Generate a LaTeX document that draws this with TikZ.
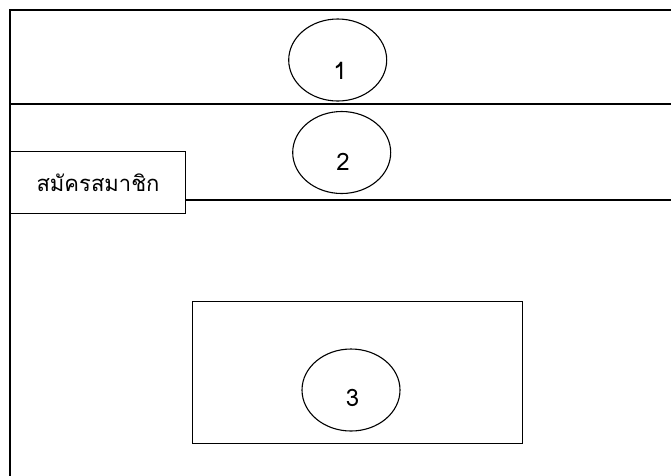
\documentclass[tikz,border=0pt]{standalone}
\usepackage{fontspec}
\newfontfamily\thaifont[Script=Thai]{Loma}
\usetikzlibrary{shapes.geometric}
\begin{document}
\begin{tikzpicture}[x=1pt,y=-1pt,line width=1.1pt,
  oval/.style={draw,ellipse,minimum width=98pt,minimum height=82pt,inner sep=0pt},
  numtext/.style={font=\thaifont\fontsize{24}{24}\selectfont,inner sep=0pt},
  labelbox/.style={draw,fill=white,minimum width=175pt,minimum height=62pt,inner sep=0pt,font=\thaifont\fontsize{22}{24}\selectfont}]
\useasboundingbox (0,0) rectangle (671,475);
% frame lines
\coordinate (tl) at (10,10);
\coordinate (tr) at (672,10);
\coordinate (bl) at (10,476);
\coordinate (ml) at (10,104);
\coordinate (mr) at (672,104);
\draw (bl) -- (tl) -- (tr);
\draw (ml) -- (mr);
% label box
\node[labelbox,anchor=north west] (reg) at (10,151) {สมัครสมาชิก};
\coordinate (lr) at (672,200);
\draw (reg.east |- lr) -- (lr);
% ovals
\node[oval] (o1) at (337.7,60) {};
\node[numtext] (t1) at (340,71) {1};
\node[oval] (o2) at (341.7,152.5) {};
\node[numtext] (t2) at (343,162) {2};
\node[draw,minimum width=330pt,minimum height=142pt,inner sep=0pt,anchor=north west] (box3) at (192,301) {};
\node[oval] (o3) at (351,390) {};
\node[numtext] (t3) at (352.5,398) {3};
\end{tikzpicture}
\end{document}
